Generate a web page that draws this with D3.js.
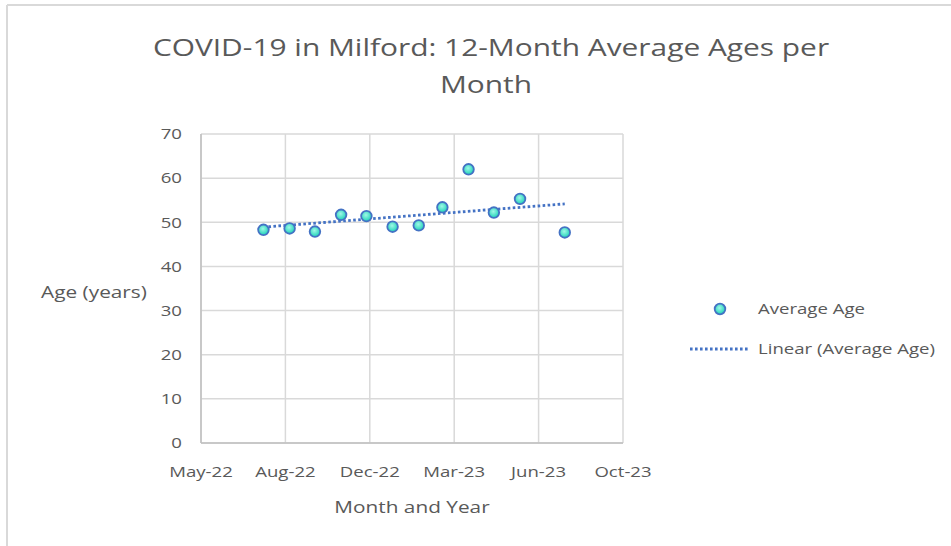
<!DOCTYPE html>
<html>
<head>
    <style>
        body {
            margin: 0;
            background-color: #ffffff;
            font-family: "Open Sans", Arial, sans-serif;
        }

        .grid line {
            stroke: #d9d9d9;
            stroke-width: 1.5px;
        }

        .tick-label {
            fill: #595959;
            font-size: 15px;
        }

        .title {
            fill: #595959;
            font-size: 23px;
        }

        .axis-title {
            fill: #595959;
            font-size: 16px;
        }

        .trend {
            fill: none;
            stroke: #4472c4;
            stroke-width: 2.8px;
            stroke-dasharray: 2.6 2.4;
        }

        .dot {
            fill: url(#dotFill);
            stroke: #4472c4;
            stroke-width: 1.8px;
        }
    </style>
</head>
<body>
    <div id="chart"></div>

    <script src="https://d3js.org/d3.v7.min.js"></script>
    <script>
        // monthly data points
        var months = ["2022-08-01", "2022-09-01", "2022-10-01", "2022-11-01", "2022-12-01", "2023-01-01",
                      "2023-02-01", "2023-03-01", "2023-04-01", "2023-05-01", "2023-06-01", "2023-07-24"];
        var avgAge = [48.3, 48.6, 47.9, 51.7, 51.4, 49.0, 49.3, 53.4, 62.0, 52.2, 55.3, 47.7];

        // axis settings like excel: 100-day steps on the date axis
        var xTicks = ["2022-05-19", "2022-08-27", "2022-12-05", "2023-03-15", "2023-06-23", "2023-10-01"];
        var yTicks = [0, 10, 20, 30, 40, 50, 60, 70];

        var titleLines = ["COVID-19 in Milford: 12-Month Average Ages per", "Month"];
        var legendLabels = ["Average Age", "Linear (Average Age)"];

        var W = 951, H = 546;
        var plot = {left: 201, right: 623, top: 134, bottom: 443};

        // the original font is wider than Open Sans, so stretch text sideways
        var SX_TITLE = 1.3, SX_TICK = 1.24, SX_AXIS = 1.3;

        var parse = d3.utcParse("%Y-%m-%d");
        var data = months.map(function(m, i) { return {date: parse(m), age: avgAge[i]}; });
        var tickDates = xTicks.map(parse);

        var svg = d3.select("#chart").append("svg")
            .attr("width", W)
            .attr("height", H);

        var defs = svg.append("defs");
        var grad = defs.append("radialGradient")
            .attr("id", "dotFill")
            .attr("cx", "45%").attr("cy", "40%").attr("r", "60%");
        grad.append("stop").attr("offset", "0%").attr("stop-color", "#9ff8e6");
        grad.append("stop").attr("offset", "100%").attr("stop-color", "#1cd2b8");

        function place(px, py, sx) {
            return "translate(" + px + "," + py + ") scale(" + sx + ",1)";
        }

        // chart frame (only top and left visible in the picture)
        svg.append("line").attr("x1", 7).attr("x2", W).attr("y1", 5).attr("y2", 5)
            .attr("stroke", "#d9d9d9").attr("stroke-width", 2);
        svg.append("line").attr("x1", 7).attr("x2", 7).attr("y1", 5).attr("y2", H)
            .attr("stroke", "#d9d9d9").attr("stroke-width", 2);

        var x = d3.scaleUtc()
            .domain([tickDates[0], tickDates[tickDates.length - 1]])
            .range([plot.left, plot.right]);

        var y = d3.scaleLinear()
            .domain([0, 70])
            .range([plot.bottom, plot.top]);

        var fmt = d3.utcFormat("%b-%y");

        // gridlines
        var grid = svg.append("g").attr("class", "grid");
        grid.selectAll("line.h")
            .data(yTicks)
            .enter().append("line")
            .attr("class", "h")
            .attr("x1", plot.left).attr("x2", plot.right)
            .attr("y1", function(d) { return y(d); })
            .attr("y2", function(d) { return y(d); });
        grid.selectAll("line.v")
            .data(tickDates)
            .enter().append("line")
            .attr("class", "v")
            .attr("x1", function(d) { return x(d); })
            .attr("x2", function(d) { return x(d); })
            .attr("y1", plot.top).attr("y2", plot.bottom);

        // axis lines a bit darker
        svg.append("line").attr("x1", plot.left).attr("x2", plot.left)
            .attr("y1", plot.top).attr("y2", plot.bottom)
            .attr("stroke", "#bfbfbf").attr("stroke-width", 1.5);
        svg.append("line").attr("x1", plot.left).attr("x2", plot.right)
            .attr("y1", plot.bottom).attr("y2", plot.bottom)
            .attr("stroke", "#bfbfbf").attr("stroke-width", 1.5);

        // tick labels
        svg.selectAll("text.ylab")
            .data(yTicks)
            .enter().append("text")
            .attr("class", "tick-label ylab")
            .attr("transform", function(d) { return place(182, y(d), SX_TICK); })
            .attr("dy", "0.35em")
            .attr("text-anchor", "end")
            .text(function(d) { return d; });

        svg.selectAll("text.xlab")
            .data(tickDates)
            .enter().append("text")
            .attr("class", "tick-label xlab")
            .attr("transform", function(d) { return place(x(d), 472, SX_TICK); })
            .attr("dy", "0.35em")
            .attr("text-anchor", "middle")
            .text(function(d) { return fmt(d); });

        // titles
        svg.selectAll("text.title")
            .data(titleLines)
            .enter().append("text")
            .attr("class", "title")
            .attr("transform", function(d, i) { return place(i ? 486 : 491, 48 + i * 37, SX_TITLE); })
            .attr("dy", "0.35em")
            .attr("text-anchor", "middle")
            .text(function(d) { return d; });

        svg.append("text")
            .attr("class", "axis-title")
            .attr("transform", place(412, 507, SX_AXIS))
            .attr("dy", "0.35em")
            .attr("text-anchor", "middle")
            .text("Month and Year");

        svg.append("text")
            .attr("class", "axis-title")
            .attr("transform", place(94, 292, SX_AXIS))
            .attr("dy", "0.35em")
            .attr("text-anchor", "middle")
            .text("Age (years)");

        // linear trend (least squares on the date)
        var xs = data.map(function(d) { return +d.date; });
        var mx = d3.mean(xs), my = d3.mean(avgAge);
        var sxy = d3.sum(data, function(d) { return (+d.date - mx) * (d.age - my); });
        var sxx = d3.sum(xs, function(v) { return (v - mx) * (v - mx); });
        var slope = sxy / sxx, icpt = my - slope * mx;
        var trend = d3.extent(xs).map(function(v) { return {date: new Date(v), age: icpt + slope * v}; });

        svg.append("path")
            .datum(trend)
            .attr("class", "trend")
            .attr("d", d3.line()
                .x(function(d) { return x(d.date); })
                .y(function(d) { return y(d.age); }));

        svg.selectAll("circle.dot")
            .data(data)
            .enter().append("circle")
            .attr("class", "dot")
            .attr("cx", function(d) { return x(d.date); })
            .attr("cy", function(d) { return y(d.age); })
            .attr("r", 5.3);

        // legend
        var legend = svg.append("g");
        legend.append("circle")
            .attr("class", "dot")
            .attr("cx", 720).attr("cy", 309).attr("r", 5.3);
        legend.append("line")
            .attr("class", "trend")
            .attr("x1", 690).attr("x2", 748)
            .attr("y1", 349).attr("y2", 349);
        legend.selectAll("text")
            .data(legendLabels)
            .enter().append("text")
            .attr("class", "tick-label")
            .attr("transform", function(d, i) { return place(758, 309 + i * 40, SX_TICK); })
            .attr("dy", "0.35em")
            .text(function(d) { return d; });
    </script>
</body>
</html>
